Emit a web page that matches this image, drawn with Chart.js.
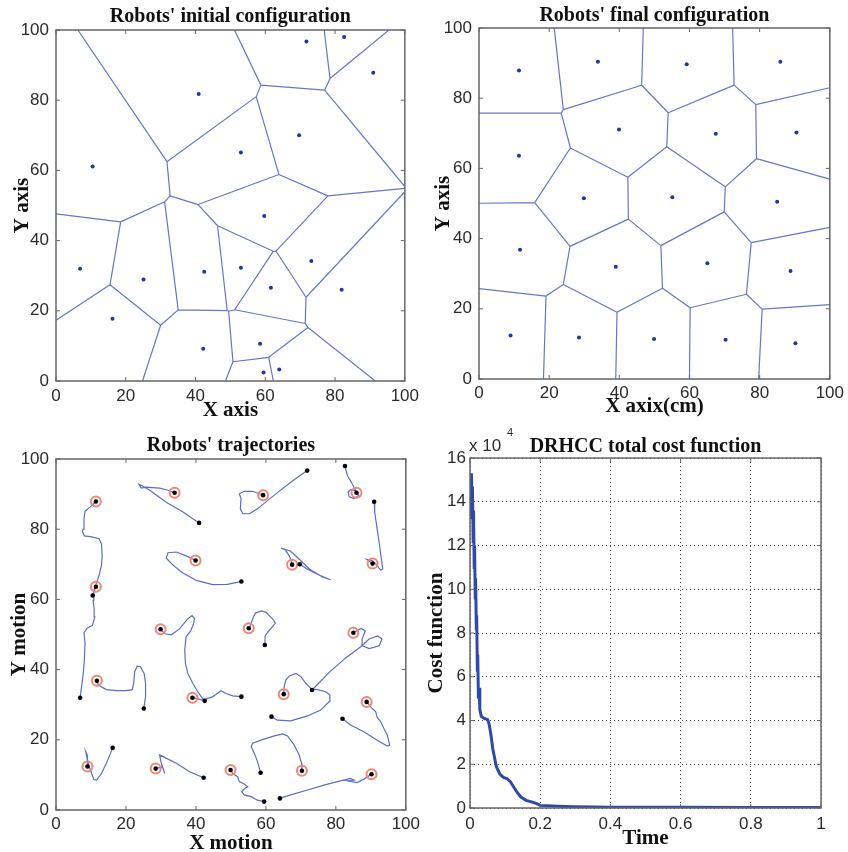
<!DOCTYPE html>
<html><head><meta charset="utf-8">
<script src="https://cdn.jsdelivr.net/npm/chart.js@4.4.1/dist/chart.umd.min.js"></script>
<style>
html,body{margin:0;padding:0;background:#fff;overflow:hidden;width:848px;height:852px;}
canvas{position:absolute;}
</style></head><body>
<canvas id="c1" width="424" height="426" style="left:0px;top:0px"></canvas>
<canvas id="c2" width="424" height="426" style="left:424px;top:0px"></canvas>
<canvas id="c3" width="424" height="440" style="left:0px;top:426px"></canvas>
<canvas id="c4" width="424" height="440" style="left:424px;top:426px"></canvas>
<script>
// ---------------- DATA ----------------
const initialX = [71.8,82.6,90.95,40.9,69.7,53.0,10.5,59.7,6.9,25.1,42.5,53.0,73.2,61.6,81.9,16.2,42.2,58.5,59.5,64.0];
const initialY = [96.7,98.0,87.8,81.8,70.0,65.1,61.1,47.0,32.0,28.9,31.1,32.3,34.2,26.6,26.0,17.7,9.2,10.6,2.4,3.3];
const finalX = [59.2,85.9,90.5,33.9,67.5,39.9,11.4,55.1,11.4,11.7,29.9,39.0,85.0,65.1,88.8,9.0,28.5,70.3,49.9,90.2];
const finalY = [89.7,90.4,70.2,90.4,69.9,71.1,87.9,51.8,63.6,36.8,51.5,32.0,50.5,33.0,30.8,12.4,11.8,11.2,11.4,10.2];

// intermediate waypoints of each robot's path (initial -> waypoints -> final)
const trajWaypoints = [
  [[67.1,93.4],[62.4,89.7],[57.6,85.8],[55.3,84.4],[53.4,84.4],[52.7,85.8],[52.9,88.7],[52.4,90.1],[53.8,90.8],[56.2,90.8],[58.1,90.1]],
  [[83.3,95.3],[84.7,92.9],[85.7,91.0],[84.2,91.3],[83.5,90.6],[83.8,89.2],[85.2,88.7],[86.6,89.7]],
  [[91.1,84.9],[91.8,80.1],[92.5,75.4],[93.0,71.6],[93.4,68.7],[92.8,68.3],[91.8,69.7],[90.4,71.1],[88.8,71.4]],
  [[36.3,84.9],[31.5,87.7],[26.8,91.1],[24.4,92.5],[23.7,92.8],[24.4,91.7],[25.8,92.0],[29.6,91.7],[32.0,91.1]],
  [[72.0,68.5],[75.5,66.8],[78.5,65.6],[76.0,66.5],[72.5,68.6],[69.5,71.5],[67.0,73.8],[64.3,74.6],[65.5,74.2],[66.8,72.2]],
  [[51.0,64.7],[49.0,64.3],[44.8,64.2],[40.1,65.4],[35.8,67.8],[33.0,70.2],[31.5,71.8],[32.0,73.3],[34.4,73.5],[37.2,72.4]],
  [[11.0,63.2],[11.6,64.7],[12.3,66.8],[13.0,69.7],[13.2,72.5],[13.0,75.8],[12.3,77.3],[10.2,77.8],[8.1,78.1],[7.5,79.4],[7.8,80.0],[8.0,83.0],[8.3,85.1],[9.7,86.3]],
  [[59.8,49.6],[60.8,51.0],[62.7,53.2],[62.0,54.4],[60.8,55.5],[60.1,56.3],[58.7,56.7],[57.0,56.1],[56.3,54.6],[55.5,52.5]],
  [[7.3,35.1],[7.8,38.9],[8.1,42.7],[8.3,47.5],[8.0,50.5],[8.9,51.8],[10.4,52.6],[11.1,55.0],[10.9,57.3],[10.6,59.7],[10.8,62.0]],
  [[25.6,32.3],[25.6,36.1],[25.2,38.9],[24.1,40.8],[23.2,41.0],[22.5,39.4],[22.2,36.1],[21.8,34.3],[20.1,34.0],[17.3,34.0],[14.4,34.3],[12.1,35.6]],
  [[41.5,32.3],[40.5,33.7],[39.1,36.1],[37.7,38.9],[37.0,41.8],[36.8,45.6],[37.2,49.4],[38.5,51.0],[39.3,53.0],[39.6,54.5],[38.9,55.4],[37.7,54.5],[35.3,51.6],[33.0,49.9],[31.1,50.2]],
  [[50.5,32.5],[48.6,33.2],[47.2,34.0],[44.8,32.3],[42.0,31.3]],
  [[78.1,39.2],[82.9,43.4],[87.2,46.6],[89.5,48.7],[91.9,49.6],[93.2,48.7],[92.4,46.8],[89.5,46.0],[87.6,46.8],[87.5,48.7],[88.4,51.0],[87.2,51.7]],
  [[63.3,25.6],[67.1,25.4],[71.9,26.8],[75.7,28.5],[78.1,30.9],[78.3,32.8],[77.1,33.7],[74.7,34.3],[73.0,34.5],[71.4,36.1],[70.0,38.0],[68.6,38.9],[66.7,38.2],[65.7,37.0],[65.2,35.1]],
  [[84.2,24.2],[88.0,22.3],[91.8,19.9],[94.7,18.2],[95.4,18.5],[94.7,21.4],[93.7,23.3],[92.8,25.2],[91.8,26.4],[91.4,28.0],[90.4,28.9]],
  [[15.4,15.7],[14.4,13.3],[13.0,10.4],[11.6,8.5],[10.8,8.7],[10.2,10.4],[9.5,12.3],[8.9,14.7],[8.5,16.6],[8.9,15.7]],
  [[38.2,10.9],[34.4,13.3],[30.6,15.2],[29.6,15.7],[30.1,13.3],[31.1,10.4],[30.4,12.3]],
  [[57.6,13.8],[56.7,16.2],[55.8,18.0],[56.2,19.0],[58.6,19.9],[62.4,21.1],[64.8,21.7],[66.2,21.1],[68.1,18.5],[69.5,15.7],[70.2,13.3]],
  [[57.6,2.8],[55.8,3.8],[53.8,4.3],[53.1,5.2],[54.0,6.2],[54.8,6.6],[53.8,7.4],[52.4,8.1],[51.9,9.5],[50.5,10.4]],
  [[67.1,4.3],[71.9,5.7],[76.6,7.1],[80.4,8.1],[84.2,9.0],[85.2,8.5],[83.3,8.3],[86.1,7.8],[88.0,8.8]]
];

const costTime = [0.002,0.004,0.006,0.007,0.009,0.010,0.012,0.013,0.015,0.016,0.018,0.019,0.021,0.022,0.024,0.026,0.028,0.032,0.040,0.050,0.055,0.060,0.065,0.070,0.075,0.085,0.095,0.105,0.115,0.125,0.135,0.145,0.160,0.175,0.190,0.200,0.220,0.250,0.300,0.400,0.600,0.800,1.000];
const costValue = [132000,153000,140000,147000,122000,136000,110000,120000,96000,105000,82000,88000,63000,70000,50000,55000,45000,42000,41000,40500,38000,33000,27000,23000,19000,15500,14000,13500,12000,9500,7000,5000,3500,2800,2000,1200,1000,800,600,400,300,200,200];

const xTicks100 = {min:0, max:100, step:20};
const costXTicks = {min:0, max:1, step:0.2};
const costYTicks = {min:0, max:160000, step:20000};

// ---------------- HELPERS ----------------
const SERIF = "'Liberation Serif','Times New Roman',serif";
const SANS = "'Liberation Sans',Arial,sans-serif";
const EDGE = '#6676c8';
const DOT = '#1d35a6';

function pts(xs, ys){ return xs.map((x,i)=>({x:x, y:ys[i]})); }

function voronoiSegments(xs, ys){
  const n = xs.length, out = [], seen = new Set();
  const onB = (P,Q)=> (Math.abs(P[0])<1e-6&&Math.abs(Q[0])<1e-6)||(Math.abs(P[0]-100)<1e-6&&Math.abs(Q[0]-100)<1e-6)||
                      (Math.abs(P[1])<1e-6&&Math.abs(Q[1])<1e-6)||(Math.abs(P[1]-100)<1e-6&&Math.abs(Q[1]-100)<1e-6);
  for(let i=0;i<n;i++){
    let poly=[[0,0],[100,0],[100,100],[0,100]];
    for(let j=0;j<n;j++){ if(j===i) continue;
      const ax=xs[j]-xs[i], ay=ys[j]-ys[i];
      const c=(xs[j]*xs[j]+ys[j]*ys[j]-xs[i]*xs[i]-ys[i]*ys[i])/2;
      const np=[];
      for(let k=0;k<poly.length;k++){
        const P=poly[k], Q=poly[(k+1)%poly.length];
        const fp=ax*P[0]+ay*P[1]-c, fq=ax*Q[0]+ay*Q[1]-c;
        if(fp<=0) np.push(P);
        if((fp<0&&fq>0)||(fp>0&&fq<0)){ const t=fp/(fp-fq); np.push([P[0]+t*(Q[0]-P[0]),P[1]+t*(Q[1]-P[1])]); }
      }
      poly=np;
    }
    for(let k=0;k<poly.length;k++){
      const P=poly[k], Q=poly[(k+1)%poly.length];
      if(onB(P,Q)) continue;
      if(Math.hypot(P[0]-Q[0],P[1]-Q[1])<1e-6) continue;
      const a=P[0].toFixed(3)+','+P[1].toFixed(3), b=Q[0].toFixed(3)+','+Q[1].toFixed(3);
      const key = a<b ? a+'|'+b : b+'|'+a;
      if(seen.has(key)) continue; seen.add(key);
      out.push({x:P[0],y:P[1]},{x:Q[0],y:Q[1]},{x:P[0],y:null});
    }
  }
  return out;
}

function trajData(){
  const out=[];
  trajWaypoints.forEach((w,i)=>{
    out.push({x:initialX[i],y:initialY[i]});
    w.forEach(p=>out.push({x:p[0],y:p[1]}));
    out.push({x:finalX[i],y:finalY[i]});
    out.push({x:finalX[i],y:null});
  });
  return out;
}

const framePlugin = {
  id:'frame',
  afterDatasetsDraw(chart){
    const {ctx, chartArea:a, scales:{x,y}} = chart;
    ctx.save();
    ctx.strokeStyle='#666'; ctx.lineWidth=1.5;
    ctx.strokeRect(a.left, a.top, a.right-a.left, a.bottom-a.top);
    ctx.lineWidth=1; ctx.beginPath();
    const L=4;
    x.ticks.forEach(t=>{ const p=x.getPixelForValue(t.value); ctx.moveTo(p,a.bottom); ctx.lineTo(p,a.bottom-L); ctx.moveTo(p,a.top); ctx.lineTo(p,a.top+L); });
    y.ticks.forEach(t=>{ const p=y.getPixelForValue(t.value); ctx.moveTo(a.left,p); ctx.lineTo(a.left+L,p); ctx.moveTo(a.right,p); ctx.lineTo(a.right-L,p); });
    ctx.stroke(); ctx.restore();
  }
};

const expPlugin = {
  id:'exp',
  afterDraw(chart){
    const {ctx, chartArea:a} = chart;
    ctx.save(); ctx.fillStyle='#2b2b2b'; ctx.textBaseline='alphabetic'; ctx.textAlign='left';
    ctx.font = '17px '+SANS; ctx.fillText('x 10', a.left-1, a.top-7);
    ctx.font = '11px '+SANS; ctx.fillText('4', a.left+37, a.top-22);
    ctx.restore();
  }
};

function opts(g){
  const tickFont = {family:SANS, size:17};
  const axTitleFont = {family:SERIF, size:21, weight:'bold'};
  return {
    responsive:false, animation:false, events:[],
    layout:{padding:{left:0, top:0, right:g.right, bottom:0}},
    plugins:{
      legend:{display:false}, tooltip:{enabled:false},
      title:{display:true, text:g.title, fullSize:false, color:'#111',
             font:{family:SERIF, size:20, weight:'bold'}, padding:{top:g.tp[0], bottom:g.tp[1]}}
    },
    scales:{
      x:{type:'linear', min:g.xr.min, max:g.xr.max,
         afterFit:s=>{ s.height=g.xH; },
         ticks:{stepSize:g.xr.step, padding:g.xTP, color:'#2b2b2b', font:tickFont, maxRotation:0, autoSkip:false,
                callback:v=>String(Number(v.toFixed(1)))},
         grid: g.grid ? {display:true, drawTicks:false, color:'#444', lineWidth:1} : {display:false, drawTicks:false},
         border:{display:false, dash:[1,3]},
         title:{display:true, text:g.xTitle, color:'#111', font:axTitleFont, padding:{top:0, bottom:g.xTiP}}},
      y:{type:'linear', min:g.yr.min, max:g.yr.max,
         afterFit:s=>{ s.width=g.yW; },
         ticks:{stepSize:g.yr.step, padding:g.yTP, color:'#2b2b2b', font:tickFont, autoSkip:false,
                callback: g.yCb || (v=>String(v))},
         grid: g.grid ? {display:true, drawTicks:false, color:'#444', lineWidth:1} : {display:false, drawTicks:false},
         border:{display:false, dash:[1,3]},
         title:{display:true, text:g.yTitle, color:'#111', font:axTitleFont, padding:{top:g.yTiP, bottom:0}}}
    }
  };
}

// ---------------- PANEL 1 ----------------
new Chart(document.getElementById('c1'), {
  type:'scatter',
  data:{datasets:[
    {data:pts(initialX, initialY), pointRadius:2, backgroundColor:DOT, borderWidth:0, order:0},
    {data:voronoiSegments(initialX, initialY), showLine:true, borderColor:EDGE, borderWidth:1.2, pointRadius:0, order:1}
  ]},
  options:opts({title:"Robots' initial configuration", tp:[5,1], right:18,
    xr:xTicks100, yr:xTicks100, xH:45, yW:56, xTP:5, yTP:7, xTiP:3, yTiP:10,
    xTitle:'X axis', yTitle:'Y axis'}),
  plugins:[framePlugin]
});

// ---------------- PANEL 2 ----------------
new Chart(document.getElementById('c2'), {
  type:'scatter',
  data:{datasets:[
    {data:pts(finalX, finalY), pointRadius:2, backgroundColor:DOT, borderWidth:0, order:0},
    {data:voronoiSegments(finalX, finalY), showLine:true, borderColor:EDGE, borderWidth:1.2, pointRadius:0, order:1}
  ]},
  options:opts({title:"Robots' final configuration", tp:[4,0], right:18,
    xr:xTicks100, yr:xTicks100, xH:47, yW:55, xTP:4, yTP:7, xTiP:7, yTiP:7,
    xTitle:'X axix(cm)', yTitle:'Y axis'}),
  plugins:[framePlugin]
});

// ---------------- PANEL 3 ----------------
new Chart(document.getElementById('c3'), {
  type:'scatter',
  data:{datasets:[
    {data:pts(initialX, initialY).concat(pts(finalX, finalY)), pointRadius:2.3, backgroundColor:'#000', borderWidth:0, order:0},
    {data:pts(finalX, finalY), pointRadius:5, backgroundColor:'rgba(0,0,0,0)', borderColor:'#f08674', borderWidth:2, order:1},
    {data:trajData(), showLine:true, borderColor:'#5b6ec4', borderWidth:1.2, pointRadius:0, order:2}
  ]},
  options:opts({title:"Robots' trajectories", tp:[8,1], right:17,
    xr:xTicks100, yr:xTicks100, xH:56, yW:56, xTP:4, yTP:7, xTiP:10, yTiP:7,
    xTitle:'X motion', yTitle:'Y motion'}),
  plugins:[framePlugin]
});

// ---------------- PANEL 4 ----------------
new Chart(document.getElementById('c4'), {
  type:'scatter',
  data:{datasets:[
    {data:pts(costTime, costValue), showLine:true, borderColor:'#2f49a6', borderWidth:3, pointRadius:0, order:0}
  ]},
  options:opts({title:'DRHCC total cost function', tp:[9,-1], right:27,
    xr:costXTicks, yr:costYTicks, xH:58, yW:46, xTP:6, yTP:4, xTiP:15, yTiP:0, grid:true,
    xTitle:'Time', yTitle:'Cost function', yCb:v=>String(v/10000)}),
  plugins:[framePlugin, expPlugin]
});
</script>
</body></html>
